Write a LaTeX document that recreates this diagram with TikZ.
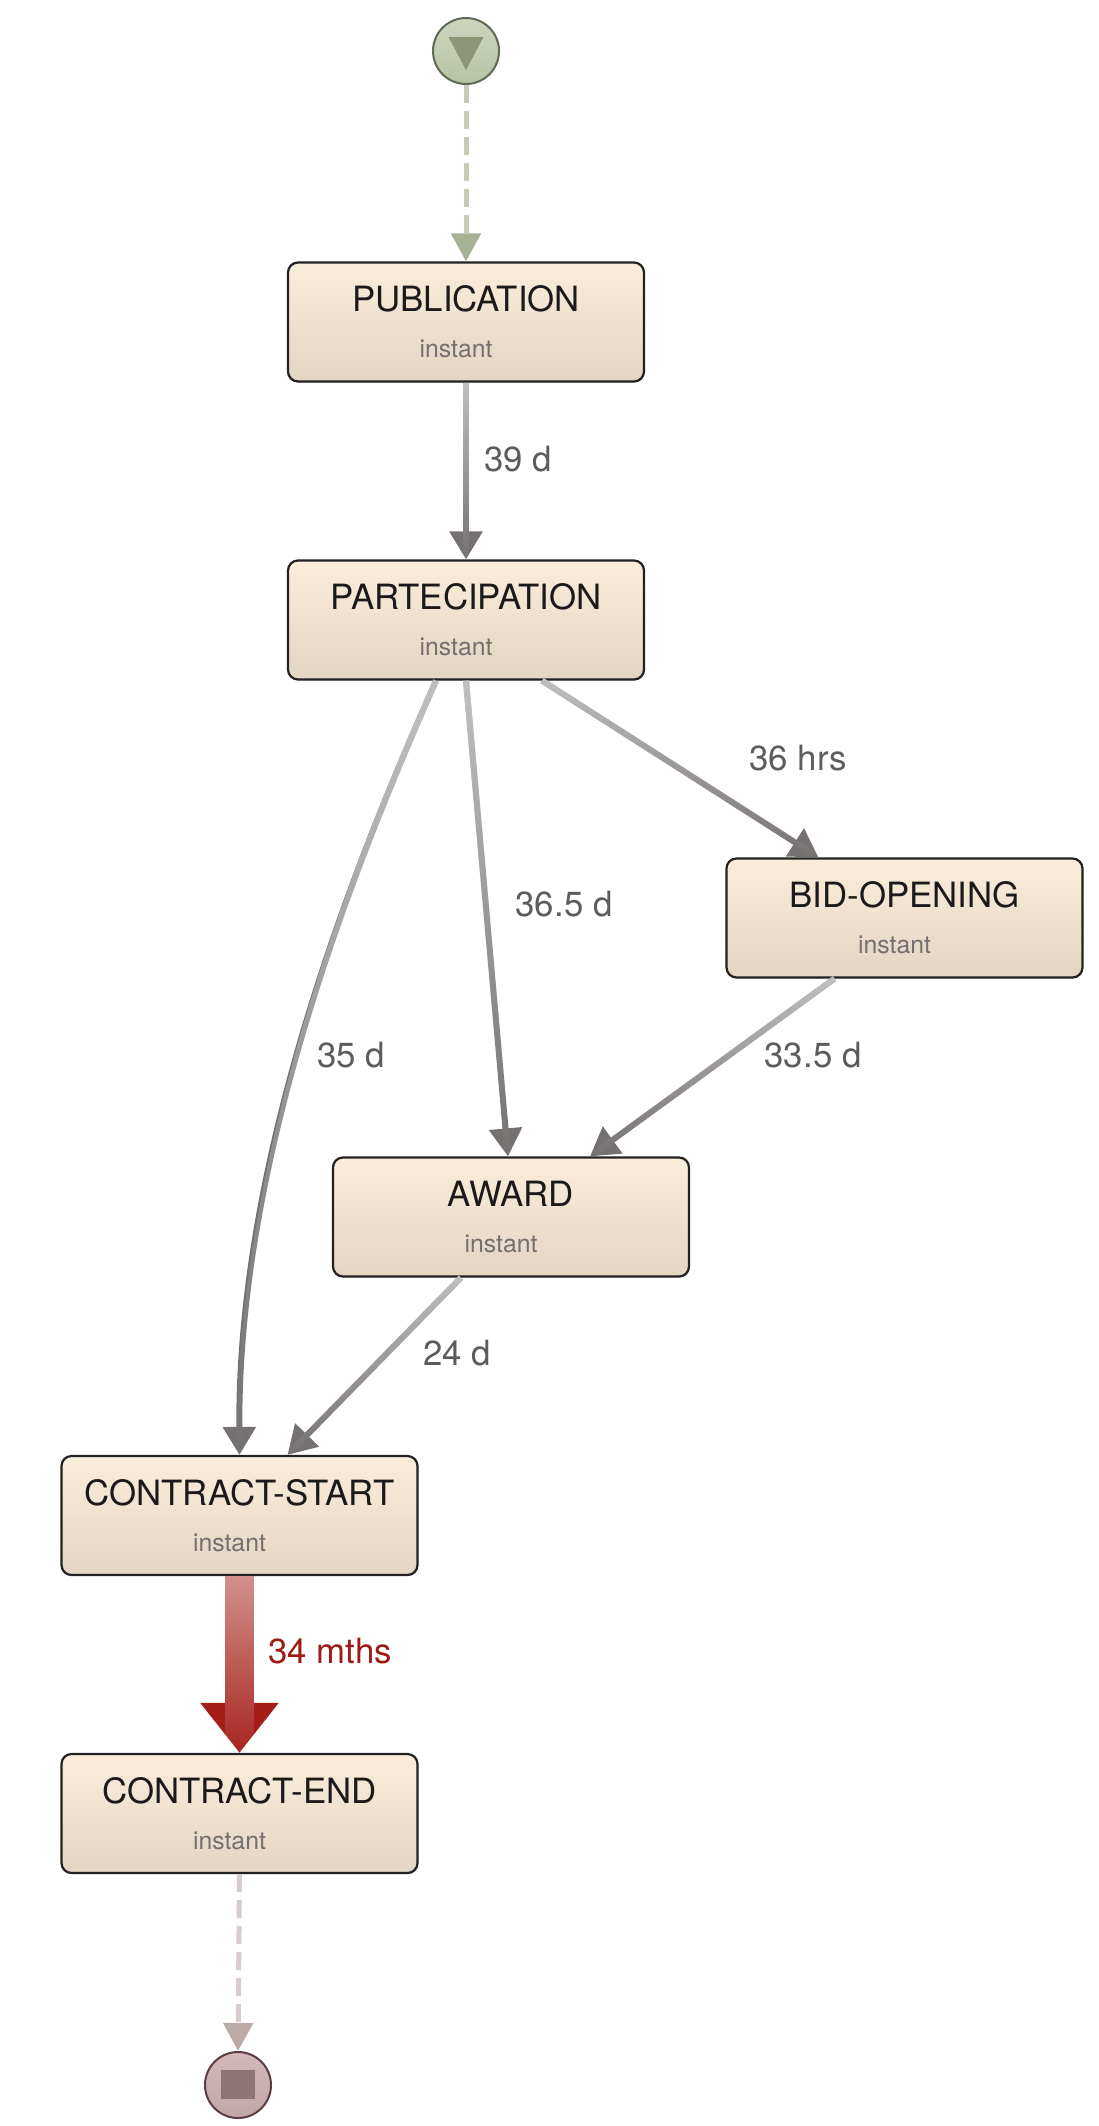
\documentclass[tikz,border=0pt]{standalone}
\usepackage{fontspec}
\setmainfont{TeX Gyre Heros}
\usepackage{xcolor}
\usetikzlibrary{arrows.meta, positioning, calc, shadows, fadings}

\definecolor{nodetop}{HTML}{FAEDD9}
\definecolor{nodebottom}{HTML}{E2D5C1}
\definecolor{nodeborder}{HTML}{222222}
\definecolor{titleblack}{HTML}{1A1A1A}
\definecolor{instantgray}{HTML}{747070}
\definecolor{edgegray}{HTML}{767171}
\definecolor{labelgray}{HTML}{5C5C5C}
\definecolor{flowred}{HTML}{A51D16}
\definecolor{labelred}{HTML}{9E1B15}
\definecolor{sageline}{HTML}{C5CDB9}
\definecolor{sagehead}{HTML}{A7B295}
\definecolor{sagetop}{HTML}{CDD6BD}
\definecolor{sagebottom}{HTML}{B8C3A5}
\definecolor{sageborder}{HTML}{5F6953}
\definecolor{sagemark}{HTML}{8C9677}
\definecolor{roseline}{HTML}{D9CCCC}
\definecolor{rosehead}{HTML}{BCACA8}
\definecolor{rosetop}{HTML}{D2B8BA}
\definecolor{rosebottom}{HTML}{C3A6A8}
\definecolor{roseborder}{HTML}{5A3D44}
\definecolor{rosemark}{HTML}{8F7477}

% white veil over the upper part of each flow
\tikzfading[name=veilfade, top color=transparent!45, bottom color=transparent!100]

\newcommand{\instantlbl}{\mbox{}\kern-10pt{\fontsize{12.4}{14}\selectfont\color{instantgray}instant}}

\begin{document}
\begin{tikzpicture}[
      x=0.5pt, y=-0.5pt,
      activity/.style={rectangle, draw=nodeborder, line width=1.1pt, rounded corners=5pt,
        top color=nodetop, bottom color=nodebottom, minimum width=178pt, minimum height=59.5pt,
        align=center, font=\fontsize{17.4}{19.5}\selectfont, text=titleblack,
        drop shadow={shadow xshift=0.4pt, shadow yshift=-0.6pt, opacity=0.3}},
      startnode/.style={circle, draw=sageborder, line width=1pt, top color=sagetop, bottom color=sagebottom, minimum size=33pt, inner sep=0pt},
      stopnode/.style={circle, draw=roseborder, line width=1pt, top color=rosetop, bottom color=rosebottom, minimum size=33pt, inner sep=0pt},
      flow/.style={line width=3pt, edgegray, -{Triangle[width=16pt, length=14pt]},
        postaction={draw=white, -, path fading=veilfade}},
      bigflow/.style={line width=14.5pt, flowred, -{Triangle[width=37.5pt, length=25pt]},
        postaction={draw=white, -, path fading=veilfade}},
      startflow/.style={line width=2.5pt, sageline, dash pattern=on 9pt off 4pt, -{Triangle[width=14.5pt, length=14pt, color=sagehead]}},
      stopflow/.style={line width=2.5pt, roseline, dash pattern=on 9pt off 4pt, -{Triangle[width=14.5pt, length=14pt, color=rosehead]}},
      elabel/.style={font=\fontsize{17.4}{20}\selectfont, text=labelgray, inner sep=0pt}
    ]
    \useasboundingbox (0,0) rectangle (1098,2126);

    % Start and stop markers
    \node[startnode] (start) at (466,51) {};
    \fill[sagemark] ($(start)+(-17.5,-14)$) -- ($(start)+(17.5,-14)$) -- ($(start)+(0,19)$) -- cycle;
    \node[stopnode] (stop) at (238,2085) {};
    \fill[rosemark] ($(stop)+(-17,-15)$) rectangle ($(stop)+(17,14)$);

    % Activities
    \node[activity] (pub) at (466,322) {PUBLICATION\\[3.5pt]\instantlbl};
    \node[activity] (part) at (466,620) {PARTECIPATION\\[3.5pt]\instantlbl};
    \node[activity] (bidopen) at (904.5,918) {BID-OPENING\\[3.5pt]\instantlbl};
    \node[activity] (award) at (511,1217) {AWARD\\[3.5pt]\instantlbl};
    \node[activity] (cstart) at (239.5,1515.5) {CONTRACT-START\\[3.5pt]\instantlbl};
    \node[activity] (cend) at (239.5,1813.5) {CONTRACT-END\\[3.5pt]\instantlbl};

    % Flows
    \draw[startflow] (start.south) -- (pub.north);
    \draw[flow] (pub.south) -- (part.north);
    \draw[flow] ($(part.south)+(76,0)$) -- ($(bidopen.north)+(-86,0)$);
    \draw[flow] (part.south) -- ($(award.north)+(-3,0)$);
    \draw[flow] ($(part.south)+(-30,0)$) .. controls ($(part.south)+(-106,172)$) and ($(cstart.north)+(-2,-306)$) .. (cstart.north);
    \draw[flow] ($(bidopen.south)+(-70,0)$) -- ($(award.north)+(79,0)$);
    \draw[flow] ($(award.south)+(-50,0)$) -- ($(cstart.north)+(48,0)$);
    \draw[bigflow] (cstart.south) -- (cend.north);
    \draw[stopflow] (cend.south) -- (stop.north);

    % Durations
    \node[elabel] (dpub) at (518,459) {39 d};
    \node[elabel] (dbid) at (798,758) {36 hrs};
    \node[elabel] (dpartaward) at (564,904) {36.5 d};
    \node[elabel] (dpartstart) at (351,1055) {35 d};
    \node[elabel] (dbidaward) at (813,1055) {33.5 d};
    \node[elabel] (daward) at (457,1353) {24 d};
    \node[elabel, text=labelred] (dcontract) at (330,1651) {34 mths};
  \end{tikzpicture}
\end{document}
